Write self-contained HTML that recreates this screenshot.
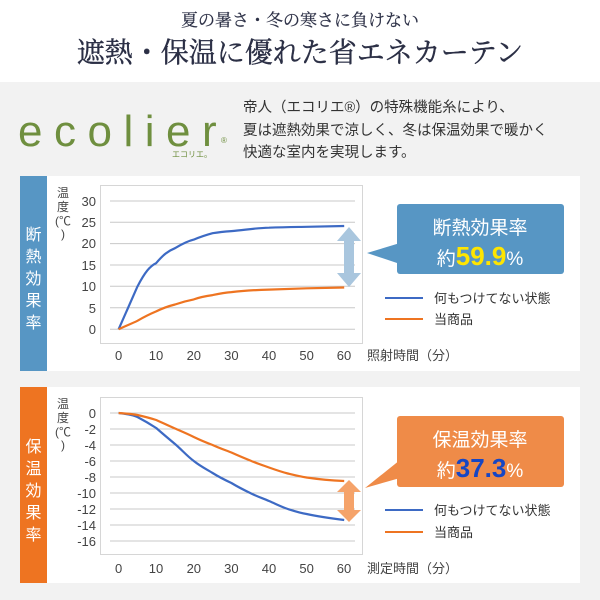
<!DOCTYPE html>
<html><head><meta charset="utf-8"><style>
html,body{margin:0;padding:0;width:600px;height:600px;overflow:hidden;background:#f2f2f2}
svg{display:block}
text{font-family:"Liberation Sans","Noto Sans CJK JP",sans-serif}
.s{font-family:"Liberation Serif","Noto Serif CJK SC",serif}
</style></head><body>
<svg width="600" height="600" viewBox="0 0 600 600">
<rect x="0" y="0" width="600" height="82" fill="#fff"/>
<rect x="0" y="82" width="600" height="518" fill="#f2f2f2"/>
<text class="s" x="300" y="26" text-anchor="middle" font-size="17" fill="#2b2f45" stroke="#2b2f45" stroke-width="0.2">夏の暑さ・冬の寒さに負けない</text>
<text class="s" x="300" y="62" text-anchor="middle" font-size="28" fill="#2b2f45" stroke="#2b2f45" stroke-width="0.4">遮熱・保温に優れた省エネカーテン</text>
<text x="18" y="146" font-size="44" fill="#6f8f3f" letter-spacing="11.5">ecolier</text>
<text x="221" y="143" font-size="8" fill="#6f8f3f">®</text>
<text x="172" y="157" font-size="8" fill="#6f8f3f">エコリエ。</text>
<g font-size="14.5" fill="#333">
<text x="243" y="112">帝人（エコリエ®）の特殊機能糸により、</text>
<text x="243" y="135">夏は遮熱効果で涼しく、冬は保温効果で暖かく</text>
<text x="243" y="157">快適な室内を実現します。</text>
</g>

<!-- Panel 1 -->
<rect x="20" y="176" width="560" height="195" fill="#fff"/>
<rect x="20" y="176" width="27" height="195" fill="#5796c4"/>
<g fill="#fff" font-size="16" text-anchor="middle">
<text x="33.5" y="240">断</text><text x="33.5" y="262">熱</text><text x="33.5" y="284">効</text><text x="33.5" y="306">果</text><text x="33.5" y="328">率</text>
</g>
<rect x="100.5" y="185.5" width="262" height="158" fill="none" stroke="#d6d6d6"/>
<g stroke="#c8c8c8" stroke-width="1">
<line x1="110" x2="355" y1="201" y2="201"/><line x1="110" x2="355" y1="222.3" y2="222.3"/><line x1="110" x2="355" y1="243.6" y2="243.6"/><line x1="110" x2="355" y1="265" y2="265"/><line x1="110" x2="355" y1="286.3" y2="286.3"/><line x1="110" x2="355" y1="307.7" y2="307.7"/><line x1="110" x2="355" y1="329.3" y2="329.3"/>
</g>
<g font-size="13" fill="#444" text-anchor="end">
<text x="96" y="206">30</text><text x="96" y="227">25</text><text x="96" y="248">20</text><text x="96" y="270">15</text><text x="96" y="291">10</text><text x="96" y="313">5</text><text x="96" y="334">0</text>
</g>
<g font-size="12" fill="#444" text-anchor="middle">
<text x="63" y="197">温</text><text x="63" y="211">度</text><text x="63" y="225">(℃</text><text x="63" y="238">)</text>
</g>
<g font-size="13" fill="#444" text-anchor="middle">
<text x="118.6" y="360">0</text><text x="156" y="360">10</text><text x="193.8" y="360">20</text><text x="231.4" y="360">30</text><text x="269" y="360">40</text><text x="306.6" y="360">50</text><text x="344" y="360">60</text>
</g>
<text x="367" y="360" font-size="13" fill="#444">照射時間（分）</text>
<path fill="none" stroke="#3d6ac4" stroke-width="2.2" d="M118.6,329.3 L137.4,286.6 C145,272 150,266 156.2,263.1 C163,255 168,251 175,248.2 C182,244 188,241 193.8,239.6 C200,237 206,235 212.6,233.2 C220,232 226,231.5 231.4,231.1 C245,230 255,228 269,227.7 C285,227 295,227 306.6,226.8 L344.2,226"/>
<path fill="none" stroke="#ee7421" stroke-width="2.2" d="M118.6,329.3 C125,326 131,324 137.4,320.8 C144,317 150,314 156.2,311.4 C163,308 169,306 175,304.5 C182,302 188,300.5 193.8,299.4 C200,297 206,296 212.6,295.1 C220,293.5 226,292.5 231.4,292.1 C245,290.5 255,290 269,289.6 L306.6,288.3 L344.2,287.5"/>
<polygon fill="#a9c6de" points="349,227 361,241 354,241 354,273 361,273 349,287 337,273 344,273 344,241 337,241"/>
<polygon fill="#5796c4" points="367,253 400,243 400,264"/>
<rect x="397" y="204" width="167" height="70" rx="3" fill="#5796c4"/>
<text x="480" y="234" text-anchor="middle" font-size="19" fill="#fff">断熱効果率</text>
<text x="480" y="265" text-anchor="middle" font-size="19" fill="#fff">約<tspan fill="#ffe500" font-size="26" font-weight="bold">59.9</tspan>%</text>
<line x1="385" x2="423" y1="298" y2="298" stroke="#3d6ac4" stroke-width="2"/>
<line x1="385" x2="423" y1="319" y2="319" stroke="#ee7421" stroke-width="2"/>
<text x="434" y="303" font-size="13" fill="#333">何もつけてない状態</text>
<text x="434" y="324" font-size="13" fill="#333">当商品</text>

<!-- Panel 2 -->
<rect x="20" y="387" width="560" height="196" fill="#fff"/>
<rect x="20" y="387" width="27" height="196" fill="#ee7421"/>
<g fill="#fff" font-size="16" text-anchor="middle">
<text x="33.5" y="452">保</text><text x="33.5" y="474">温</text><text x="33.5" y="496">効</text><text x="33.5" y="518">果</text><text x="33.5" y="540">率</text>
</g>
<rect x="100.5" y="397.5" width="262" height="157" fill="none" stroke="#d6d6d6"/>
<g stroke="#c8c8c8">
<line x1="110" x2="355" y1="413" y2="413"/><line x1="110" x2="355" y1="429" y2="429"/><line x1="110" x2="355" y1="445" y2="445"/><line x1="110" x2="355" y1="461" y2="461"/><line x1="110" x2="355" y1="477" y2="477"/><line x1="110" x2="355" y1="493" y2="493"/><line x1="110" x2="355" y1="509" y2="509"/><line x1="110" x2="355" y1="525" y2="525"/><line x1="110" x2="355" y1="541" y2="541"/>
</g>
<g font-size="13" fill="#444" text-anchor="end">
<text x="96" y="418">0</text><text x="96" y="434">-2</text><text x="96" y="450">-4</text><text x="96" y="466">-6</text><text x="96" y="482">-8</text><text x="96" y="498">-10</text><text x="96" y="514">-12</text><text x="96" y="530">-14</text><text x="96" y="546">-16</text>
</g>
<g font-size="12" fill="#444" text-anchor="middle">
<text x="63" y="408">温</text><text x="63" y="422">度</text><text x="63" y="436">(℃</text><text x="63" y="449">)</text>
</g>
<g font-size="13" fill="#444" text-anchor="middle">
<text x="118.6" y="573">0</text><text x="156" y="573">10</text><text x="193.8" y="573">20</text><text x="231.4" y="573">30</text><text x="269" y="573">40</text><text x="306.6" y="573">50</text><text x="344" y="573">60</text>
</g>
<text x="367" y="573" font-size="13" fill="#444">測定時間（分）</text>
<path fill="none" stroke="#3d6ac4" stroke-width="2.2" d="M118.6,413 C128,414 133,415 137.4,417 C145,421 150,424 156.2,428 C163,434 169,439 175,444 C182,450 187,456 193.8,461 C200,466 206,469 212.6,473 C219,477 225,480 231.4,483 C238,487 244,490 250.2,493 C256,496 262,498 269,501 C276,504 282,507 287.8,509 C294,511 300,513 306.6,514 C320,517 332,518.5 344.2,520"/>
<path fill="none" stroke="#ee7421" stroke-width="2.2" d="M118.6,413 C127,413.5 132,414 137.4,415 C144,416.5 150,418 156.2,420 C163,423 169,426 175,428.5 C182,431.5 188,434 193.8,437 C200,440 206,442.5 212.6,445 C219,448 225,450 231.4,452.5 C238,455.5 244,458 250.2,460.5 C256,463 262,465 269,467.5 C276,470 282,472 287.8,473.5 C294,475 300,476.5 306.6,477.5 C320,479.5 332,480.5 344.2,481"/>
<polygon fill="#f5a36a" points="349,480 361,492 354,492 354,510 361,510 349,522 337,510 344,510 344,492 337,492"/>
<polygon fill="#ef8b48" points="365,488 400,460 400,478"/>
<rect x="397" y="416" width="167" height="71" rx="3" fill="#ef8b48"/>
<text x="480" y="446" text-anchor="middle" font-size="19" fill="#fff">保温効果率</text>
<text x="480" y="477" text-anchor="middle" font-size="19" fill="#fff">約<tspan fill="#1646c4" font-size="26" font-weight="bold">37.3</tspan>%</text>
<line x1="385" x2="423" y1="510" y2="510" stroke="#3d6ac4" stroke-width="2"/>
<line x1="385" x2="423" y1="532" y2="532" stroke="#ee7421" stroke-width="2"/>
<text x="434" y="515" font-size="13" fill="#333">何もつけてない状態</text>
<text x="434" y="537" font-size="13" fill="#333">当商品</text>
</svg>
</body></html>
